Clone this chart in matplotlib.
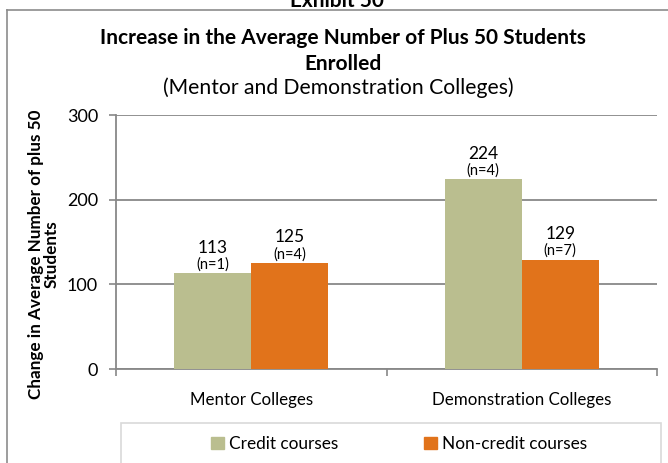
import matplotlib
matplotlib.use("Agg")
import matplotlib.pyplot as plt
from matplotlib.patches import Rectangle
from matplotlib.lines import Line2D

categories = ["Mentor Colleges", "Demonstration Colleges"]
series_names = ["Credit courses", "Non-credit courses"]
credit_values = [113, 224]
noncredit_values = [125, 129]
credit_n = ["(n=1)", "(n=4)"]
noncredit_n = ["(n=4)", "(n=7)"]
y_ticks = [0, 100, 200, 300]

colors = ["#BABE8F", "#E1731B"]
FONT = ["Lato", "DejaVu Sans"]
plt.rcParams["font.family"] = FONT

W, H = 668, 463
fig = plt.figure(figsize=(W / 100, H / 100), dpi=100)

def fx(px):
    return px / W

def fy(py):
    return 1 - py / H

ax = fig.add_axes([fx(116), fy(369), fx(657) - fx(116), fy(115) - fy(369)])

bw = 0.285
xs = list(range(len(categories)))
for vals, nlabels, col, off in [(credit_values, credit_n, colors[0], -bw / 2),
                                (noncredit_values, noncredit_n, colors[1], bw / 2)]:
    pos = [x + off for x in xs]
    ax.bar(pos, vals, width=bw, color=col, zorder=3, linewidth=0)
    for p, v, nl in zip(pos, vals, nlabels):
        ax.annotate(str(v), (p, v), xytext=(0, 18.5), textcoords="offset points",
                    ha="center", va="center", fontsize=12.5, color="#000000")
        ax.annotate(nl, (p, v), xytext=(0, 6.5), textcoords="offset points",
                    ha="center", va="center", fontsize=10.5, color="#000000")

ax.set_xlim(-0.5, len(categories) - 0.5)
ax.set_ylim(0, 300)
ax.set_yticks(y_ticks)
ax.set_yticklabels([str(t) for t in y_ticks], fontsize=13)
ax.yaxis.grid(True, color="#888888", linewidth=1.3, zorder=0)
ax.set_axisbelow(True)

ax.set_xticks([i - 0.5 for i in range(len(categories) + 1)])
ax.set_xticklabels([])
ax.set_xticks(xs, minor=True)
ax.set_xticklabels(categories, minor=True, fontsize=12.2)
ax.tick_params(axis="x", which="minor", length=0, pad=16.5)
ax.tick_params(axis="x", which="major", length=5, color="#888888", width=1.2)
ax.tick_params(axis="y", length=5, color="#888888", width=1.2, pad=8)

for s in ["top", "right"]:
    ax.spines[s].set_visible(False)
for s in ["left", "bottom"]:
    ax.spines[s].set_color("#888888")
    ax.spines[s].set_linewidth(1.3)

ax.set_ylabel("Change in Average Number of plus 50\nStudents", fontsize=12.3,
              fontweight="bold", linespacing=1.0)
lab = ax.yaxis.label
lab.set_verticalalignment("center")
lab.set_horizontalalignment("center")
ax.yaxis.set_label_coords(fx(44), fy(254), transform=fig.transFigure)

# titles
fig.text(fx(337), fy(7), "Exhibit 50", ha="center", va="baseline",
         fontsize=15, fontweight="bold")
fig.text(fx(343), fy(38), "Increase in the Average Number of Plus 50 Students",
         ha="center", va="center", fontsize=15, fontweight="bold")
fig.text(fx(343), fy(64), "Enrolled", ha="center", va="center",
         fontsize=15, fontweight="bold")
fig.text(fx(338), fy(88), "(Mentor and Demonstration Colleges)", ha="center",
         va="center", fontsize=15.2)

# outer chart border
fig.add_artist(Line2D([fx(7), 1.0], [fy(10), fy(10)], transform=fig.transFigure,
                      color="#8c8c8c", linewidth=1.2))
fig.add_artist(Line2D([fx(7), fx(7)], [fy(10), 0.0], transform=fig.transFigure,
                      color="#8c8c8c", linewidth=1.2))

# legend box
fig.add_artist(Rectangle((fx(121), fy(475)), fx(661) - fx(121), fy(423) - fy(475),
                         transform=fig.transFigure, fill=False,
                         edgecolor="#d9d9d9", linewidth=1.2))
handles = [Rectangle((0, 0), 1, 1, color=c) for c in colors]
fig.legend(handles, series_names, loc="center", bbox_to_anchor=(fx(399), fy(444)),
           ncol=2, frameon=False, fontsize=12.4, handlelength=0.75, handleheight=0.75,
           handletextpad=0.3, columnspacing=5.0)

fig.savefig("out.png", dpi=100)
